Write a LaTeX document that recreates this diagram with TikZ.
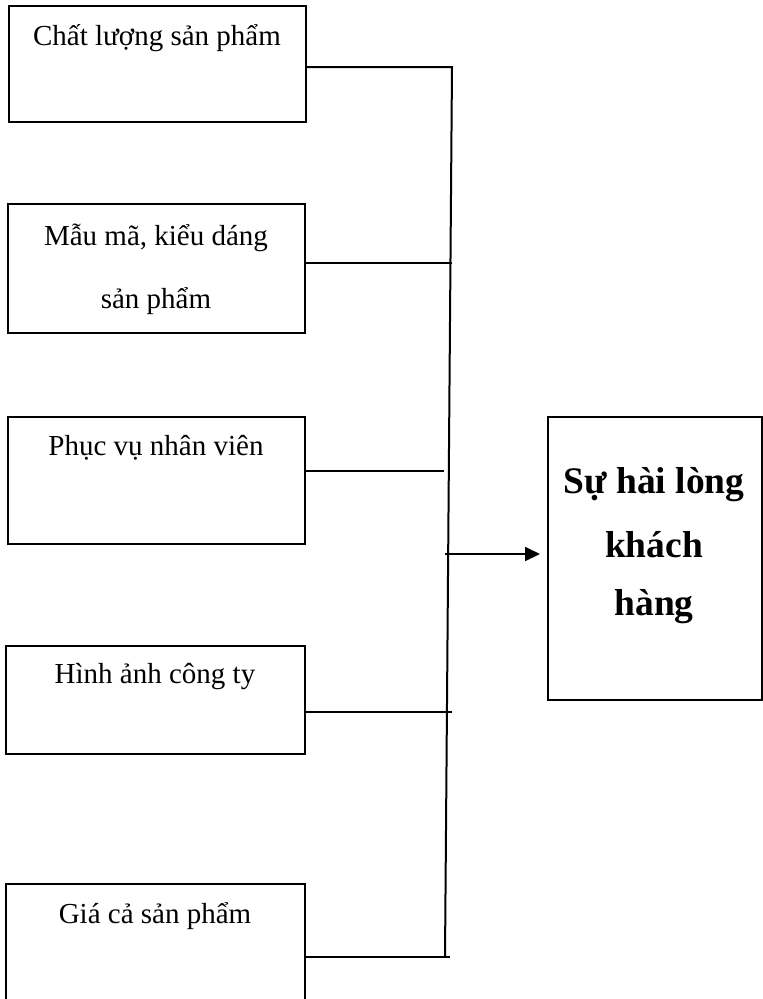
\documentclass[tikz,border=0pt]{standalone}
\usepackage{fontspec}
\setmainfont{Liberation Serif}
\usetikzlibrary{arrows.meta,calc}
\begin{document}
\begin{tikzpicture}[x=1pt,y=-1pt,
  box/.style={draw,line width=1.8pt,inner sep=0pt,anchor=north west},
  lbl/.style={anchor=base,inner sep=0pt,font=\fontsize{29}{35}\selectfont},
  blbl/.style={anchor=base,inner sep=0pt,font=\fontsize{37.5}{44}\selectfont\bfseries},
  conn/.style={line width=2pt},
  arr/.style={line width=2pt,-{Triangle[length=15pt,width=14pt]}}]
\useasboundingbox (0,0) rectangle (763,999);
% left boxes
\node[box,minimum width=297pt,minimum height=116pt] (b1) at (8,5) {};
\node[box,minimum width=297pt,minimum height=129pt] (b2) at (7,203) {};
\node[box,minimum width=297pt,minimum height=127pt] (b3) at (7,416) {};
\node[box,minimum width=299pt,minimum height=108pt] (b4) at (5,645) {};
\node[box,minimum width=299pt,minimum height=130pt] (b5) at (5,883) {};
% right box
\node[box,minimum width=214pt,minimum height=283pt] (r) at (547,416) {};
% texts
\node[lbl] (t1) at (157,45) {Chất lượng sản phẩm};
\node[lbl] (t2a) at (156,245) {Mẫu mã, kiểu dáng};
\node[lbl] (t2b) at (156,308) {sản phẩm};
\node[lbl] (t3) at (156,455) {Phục vụ nhân viên};
\node[lbl] (t4) at (155,683) {Hình ảnh công ty};
\node[lbl] (t5) at (155,923) {Giá cả sản phẩm};
\node[blbl] (rt1) at (654,493) {Sự hài lòng};
\node[blbl] (rt2) at (654,557) {khách};
\node[blbl] (rt3) at (654,615) {hàng};
% junction coordinates on the bus
\coordinate (top) at (452,67);
\coordinate (bot) at (445,957);
\coordinate (j2) at (452,263);
\coordinate (j3) at (444,471);
\coordinate (j4) at (452,712);
\coordinate (j5) at (450,957);
\coordinate (ja) at (445,554);
\coordinate (tip) at (540,554);
% connectors
\draw[conn] (b1.east |- top) -- (top) -- (bot);
\draw[conn] (b2.east |- j2) -- (j2);
\draw[conn] (b3.east |- j3) -- (j3);
\draw[conn] (b4.east |- j4) -- (j4);
\draw[conn] (b5.east |- j5) -- (j5);
\draw[arr] (ja) -- (tip);
\end{tikzpicture}
\end{document}
